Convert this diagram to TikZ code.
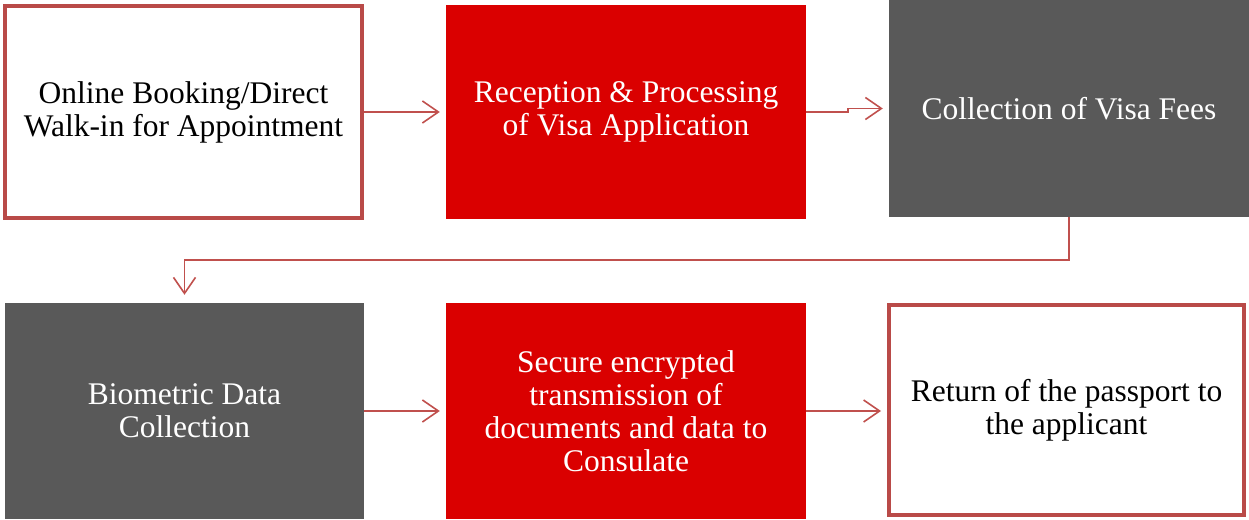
\documentclass[tikz,border=0pt]{standalone}
\usepackage{fontspec}
\setmainfont{Liberation Serif}
\usetikzlibrary{arrows.meta}
\definecolor{framered}{RGB}{185,74,72}
\definecolor{linkred}{RGB}{192,80,77}
\definecolor{fillred}{RGB}{218,0,0}
\definecolor{fillgray}{RGB}{89,89,89}

\begin{document}
\begin{tikzpicture}[x=1pt,y=-1pt,
    box/.style={minimum width=360pt,minimum height=215pt,inner sep=0pt,align=center,
                font=\fontsize{31.5}{33}\selectfont},
    outlinebox/.style={box,draw=framered,line width=4pt,fill=white,text=black,
                minimum width=357pt,minimum height=212pt},
    redbox/.style={box,fill=fillred,text=white},
    graybox/.style={box,fill=fillgray,text=white},
    link/.style={draw=linkred,line width=1.6pt,
                -{Straight Barb[length=16pt,width=22pt,line width=1.6pt]},shorten >=6pt}]
                \useasboundingbox (0,0) rectangle (1249,519);

                \node[outlinebox] (booking) at (183.5,112) {Online Booking/Direct\\Walk-in for Appointment};
                \node[redbox] (reception) at (626,112) [minimum height=214pt] {Reception \& Processing\\of Visa Application};
                \node[graybox] (fees) at (1069,108.5) [minimum height=217pt] {Collection of Visa Fees};
                \node[graybox] (biometric) at (184.5,411) [minimum width=359pt,minimum height=216pt] {Biometric Data\\Collection};
                \node[redbox] (transmit) at (626,411) [minimum height=216pt] {Secure encrypted\\transmission of\\documents and data to\\Consulate};
                \node[outlinebox] (passport) at (1066.5,410) [minimum width=355pt,minimum height=210pt] {Return of the passport to\\the applicant};

                \foreach \from/\to in {booking/reception, biometric/transmit, transmit/passport}
                \draw[link] (\from.east) -- (\to.west |- \from.east);
                \draw[link] (reception.east) -- +(42,0) |- (fees.west);
                \draw[link,shorten >=8pt] (fees.south) -- +(0,43) -| (biometric.north);
            \end{tikzpicture}
\end{document}
